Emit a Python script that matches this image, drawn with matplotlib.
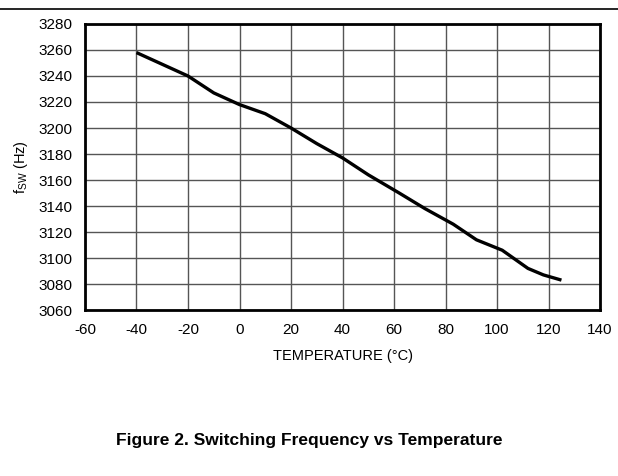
import matplotlib
matplotlib.use("Agg")
import matplotlib.pyplot as plt
from matplotlib.lines import Line2D

plt.rcParams["font.family"] = ["Liberation Sans", "DejaVu Sans"]
plt.rcParams["axes.unicode_minus"] = False

# data
temperature = [-40, -30, -20, -10, 0, 10, 20, 30, 40, 50, 62, 72, 83, 92, 102, 112, 118, 125]
f_sw = [3258, 3249, 3240, 3227, 3218, 3211, 3200, 3188, 3177, 3164, 3150, 3138, 3126, 3114, 3106, 3092, 3087, 3083]

x_ticks = list(range(-60, 141, 20))
y_ticks = list(range(3060, 3281, 20))

fig = plt.figure(figsize=(6.18, 4.76), dpi=100)
ax = fig.add_axes([0.1375, 0.3487, 0.8335, 0.6009])

ax.plot(temperature, f_sw, color="black", linewidth=2.4, solid_capstyle="butt", zorder=3)

ax.set_xlim(-60, 140)
ax.set_ylim(3060, 3280)
ax.set_xticks(x_ticks)
ax.set_yticks(y_ticks)
ax.grid(True, color="#555555", linewidth=1.0)
ax.tick_params(length=0, labelsize=11)
ax.tick_params(axis="x", pad=9)
ax.tick_params(axis="y", pad=9)
for spine in ax.spines.values():
    spine.set_linewidth(2.0)

ax.set_xlabel("TEMPERATURE (°C)", fontsize=10.5, labelpad=9)
ax.set_ylabel(r"f$_{\mathregular{SW}}$ (Hz)", fontsize=10.5, labelpad=6)

# rule across the top of the page
fig.add_artist(Line2D([0, 1], [1 - 9 / 476, 1 - 9 / 476], color="black", linewidth=1.2))

fig.text(0.5, 1 - 440 / 476, "Figure 2. Switching Frequency vs Temperature",
         ha="center", va="center", fontsize=12.5, fontweight="bold")

fig.savefig("out.png", dpi=100)
